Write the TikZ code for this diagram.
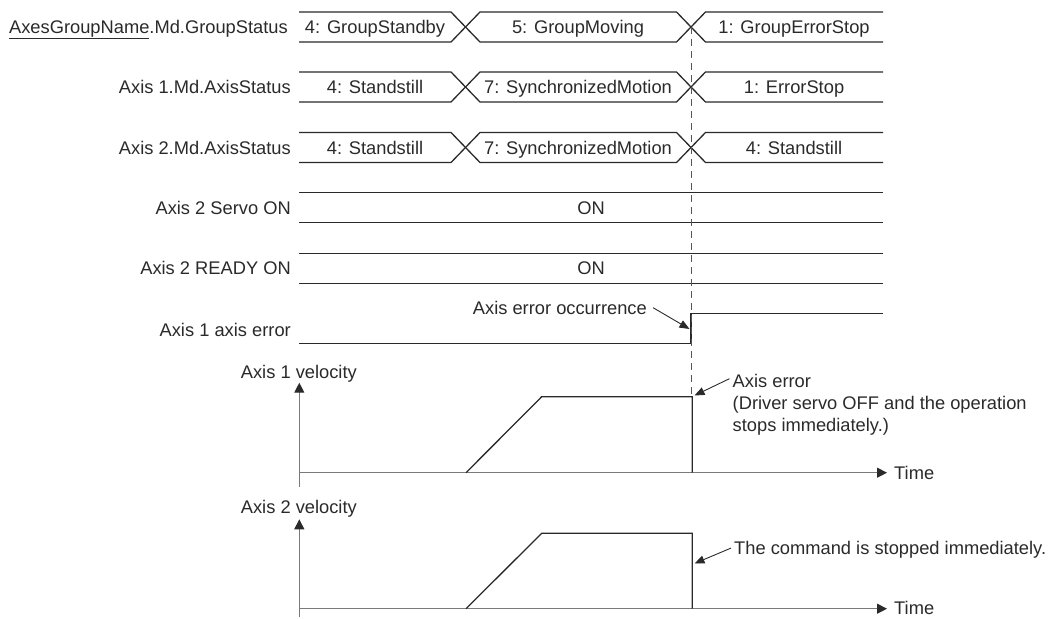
\documentclass[tikz,border=0pt]{standalone}
\usepackage{fontspec}
\setmainfont{Liberation Sans}
\usetikzlibrary{arrows.meta}
\definecolor{ink}{HTML}{2A2A2A}
\definecolor{axisgray}{HTML}{7A7A7A}
\definecolor{dashgray}{HTML}{555555}
\begin{document}
\begin{tikzpicture}[x=1pt,y=-1pt,
  every node/.style={font=\fontsize{18.3}{22}\selectfont, text=ink, inner sep=0pt},
  sig/.style={draw=ink, line width=1.3pt, line join=miter},
  axisline/.style={draw=axisgray, line width=1.2pt},
  axarrow/.style={axisline, -{Triangle[length=10pt,width=10pt,color=ink]}},
  note/.style={draw=ink, line width=0.9pt, -{Triangle[length=10pt,width=8pt]}},
  dashline/.style={draw=dashgray, line width=1pt, dash pattern=on 7pt off 5pt},
  lbl/.style={anchor=base east},
  val/.style={anchor=base}]
\useasboundingbox (0,0) rectangle (1051,618);

% ---- left labels ----
\node[lbl] (l1) at (288,33.5) {\underline{AxesGroupName}.Md.GroupStatus};
\node[lbl] (l2) at (291,93.5) {Axis 1.Md.AxisStatus};
\node[lbl] (l3) at (291,154) {Axis 2.Md.AxisStatus};
\node[lbl] (l4) at (291,214.2) {Axis 2 Servo ON};
\node[lbl] (l5) at (291,274.8) {Axis 2 READY ON};
\node[lbl] (l6) at (291,336.5) {Axis 1 axis error};
\node[lbl] (l7) at (357,378.2) {Axis 1 velocity};
\node[lbl] (l8) at (357,513.2) {Axis 2 velocity};

% ---- bus rows ----
\foreach \t in {12,72,132.5}{
  \draw[sig] (299,\t) -- (451,\t) -- (480,\t+30) -- (676.5,\t+30) -- (705.5,\t) -- (883,\t);
  \draw[sig] (299,\t+30) -- (451,\t+30) -- (480,\t) -- (676.5,\t) -- (705.5,\t+30) -- (883,\t+30);
}
\node[val] (r1a) at (375,33.5) {4: GroupStandby};
\node[val] (r1b) at (578,33.5) {5: GroupMoving};
\node[val] (r1c) at (794,33.5) {1: GroupErrorStop};
\node[val] (r2a) at (375,93.5) {4: Standstill};
\node[val] (r2b) at (578,93.5) {7: SynchronizedMotion};
\node[val] (r2c) at (794,93.5) {1: ErrorStop};
\node[val] (r3a) at (375,154) {4: Standstill};
\node[val] (r3b) at (578,154) {7: SynchronizedMotion};
\node[val] (r3c) at (794,154) {4: Standstill};

% ---- servo / ready ----
\draw[sig] (299,192.7) -- (883,192.7);
\draw[sig] (299,222.7) -- (883,222.7);
\node[val] (on1) at (591,214.2) {ON};
\draw[sig] (299,253.3) -- (883,253.3);
\draw[sig] (299,283.3) -- (883,283.3);
\node[val] (on2) at (591,274.8) {ON};

% ---- axis error signal ----
\draw[sig] (299,343.3) -- (691,343.3) -- (691,313.8) -- (883,313.8);
\node[anchor=base east] (occ) at (647,314.2) {Axis error occurrence};
\coordinate (tip0) at (689.5,329);
\draw[note] ([xshift=6pt]occ.east) -- (tip0);

% ---- dashed marker ----
\draw[dashline] (691,27) -- (691,396.7);

% ---- axis 1 velocity ----
\draw[axarrow] (299.3,487) -- (299.3,382.7);
\draw[axarrow] (299.3,472.7) -- (887,472.7);
\node[anchor=base west] (t1) at (894,479.8) {Time};
\draw[sig] (466,472.7) -- (541.7,396.7) -- (692.3,396.7) -- (692.3,472.7);
\node[anchor=base west] (ae1) at (732.5,387.2) {Axis error};
\node[anchor=base west] (ae2) at (732.5,409.2) {(Driver servo OFF and the operation};
\node[anchor=base west] (ae3) at (732.5,431.2) {stops immediately.)};
\coordinate (tip1) at (694.5,395.5);
\draw[note] ([xshift=-3pt,yshift=2pt]ae1.west) -- (tip1);

% ---- axis 2 velocity ----
\draw[axarrow] (299.3,617) -- (299.3,519.3);
\draw[axarrow] (299.3,608.7) -- (887,608.7);
\node[anchor=base west] (t2) at (894,614.8) {Time};
\draw[sig] (466,608.7) -- (541.7,533.3) -- (692.3,533.3) -- (692.3,608.7);
\node[anchor=base west] (cmd) at (734,554.8) {The command is stopped immediately.};
\coordinate (tip2) at (694.5,563.5);
\draw[note] ([xshift=-3pt,yshift=2pt]cmd.west) -- (tip2);
\end{tikzpicture}
\end{document}
